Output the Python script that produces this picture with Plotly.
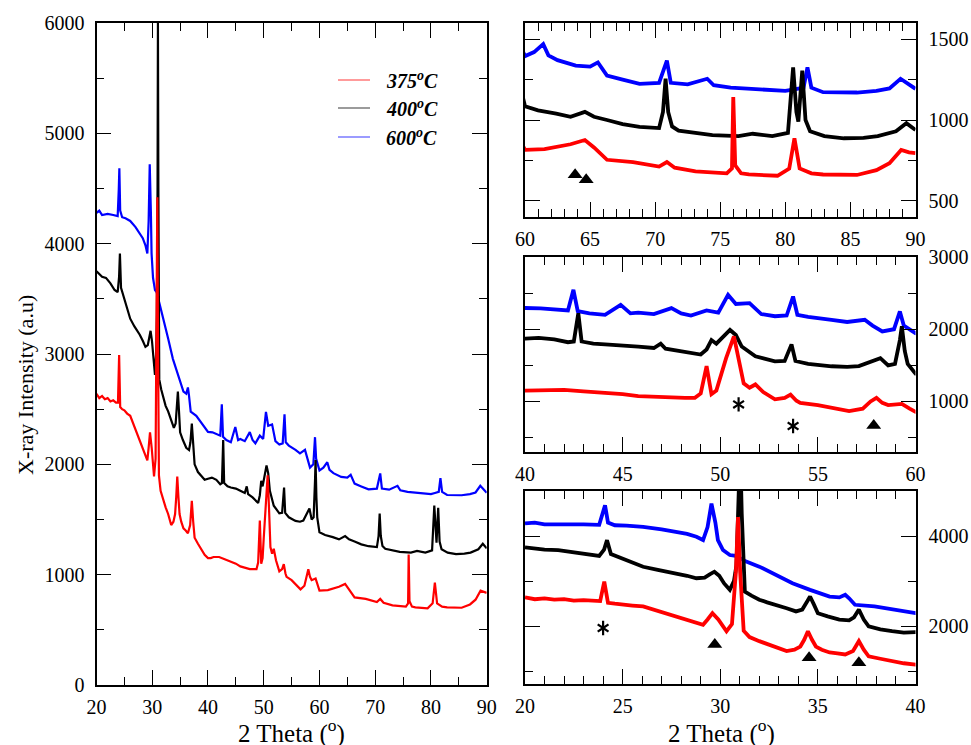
import plotly.graph_objects as go

# ---------------- data ----------------
labels = ["375", "400", "600"]
colors = ["#ff0000", "#000000", "#0000ff"]

red_x = [20.0, 20.5, 21.0, 21.5, 22.0, 22.5, 23.0, 23.5, 23.85, 24.06, 24.25, 24.6, 25.0, 25.5, 26.05, 26.5,
         27.0, 27.76, 28.3, 28.8, 29.12, 29.35, 29.6, 29.9, 30.32, 30.6, 30.8, 30.91, 31.02, 31.2, 31.5, 32.0,
         32.4, 32.85, 33.4, 33.8, 34.1, 34.3, 34.49, 34.7, 34.9, 35.2, 35.6, 36.0, 36.4, 36.8, 37.1, 37.35,
         37.6, 38.2, 38.85, 39.4, 40.0, 40.5, 41.0, 42.0, 43.0, 44.1, 45.0, 45.8, 46.7, 47.5, 48.2, 48.7,
         49.0, 49.3, 49.55, 49.8, 50.0, 50.3, 50.7, 50.95, 51.2, 51.5, 51.8, 52.2, 52.8, 53.3, 53.6, 53.9,
         54.1, 55.0, 55.7, 56.6, 57.3, 57.7, 58.0, 58.3, 58.6, 59.3, 59.7, 60.0, 61.5, 63.5, 64.6, 65.3,
         66.3, 68.3, 70.3, 70.9, 71.5, 73.1, 75.5, 75.9, 76.0, 76.15, 76.6, 77.2, 79.4, 80.3, 80.7, 81.1,
         82.0, 82.9, 85.5, 87.0, 88.0, 88.9, 89.5, 90.0]
red_y = [2640, 2600, 2620, 2590, 2600, 2570, 2580, 2560, 2560, 2990, 2520, 2500, 2490, 2460, 2440, 2380,
         2330, 2220, 2150, 2080, 2035, 2150, 2290, 2150, 1890, 2050, 3200, 4420, 3200, 1900, 1760, 1670,
         1610, 1550, 1450, 1480, 1550, 1700, 1890, 1700, 1550, 1480, 1420, 1400, 1375, 1450, 1670, 1480,
         1335, 1280, 1225, 1180, 1150, 1150, 1160, 1160, 1140, 1120, 1100, 1075, 1065, 1050, 1050, 1050,
         1110, 1490, 1100, 1150, 1330, 1600, 1900, 1600, 1250, 1190, 1235, 1130, 1030, 1050, 1095, 1010,
         980, 950, 915, 867, 900, 1000, 1050, 980, 950, 965, 900, 855, 860, 890, 916, 870,
         794, 780, 752, 780, 745, 722, 710, 740, 1182, 760, 710, 703, 695, 740, 927, 740,
         710, 703, 700, 730, 773, 855, 840, 835]

black_x = [20.0, 20.5, 21.0, 21.7, 22.5, 23.24, 23.8, 24.05, 24.2, 24.4, 24.8, 25.4, 26.05, 26.8, 27.76, 28.3,
           28.78, 29.2, 29.46, 29.7, 29.95, 30.2, 30.49, 30.7, 30.83, 30.95, 31.02, 31.1, 31.26, 31.6, 32.0,
           32.4, 32.85, 33.4, 33.88, 34.2, 34.45, 34.6, 34.8, 35.0, 35.5, 36.1, 36.6, 36.85, 37.1, 37.35,
           37.6, 38.2, 38.8, 39.4, 40.0, 40.7, 41.5, 42.2, 42.5, 42.73, 42.9, 43.5, 44.1, 45.0, 45.8, 46.6,
           46.95, 47.2, 48.0, 49.0, 49.3, 49.55, 49.8, 50.2, 50.5, 50.8, 51.1, 51.8, 52.3, 52.8, 53.3, 53.65,
           53.85, 54.5, 55.7, 56.5, 57.1, 57.6, 58.2, 58.6, 58.95, 59.2, 59.3, 59.45, 59.6, 60.0, 61.0, 62.4,
           63.5, 64.6, 65.3, 66.3, 67.5, 68.8, 70.3, 70.6, 70.8, 71.0, 71.3, 71.8, 73.0, 74.4, 76.4, 77.5,
           79.0, 80.2, 80.6, 80.85, 81.0, 81.3, 81.55, 81.9, 83.0, 84.5, 86.0, 87.1, 88.5, 89.3, 90.0]
black_y = [3750, 3720, 3700, 3690, 3640, 3580, 3560, 3700, 3910, 3600, 3530, 3430, 3320, 3250, 3175, 3120,
           3065, 3080, 3150, 3210, 3120, 2950, 2810, 3000, 3350, 4500, 6000, 4500, 2770, 2680, 2590,
           2530, 2480, 2400, 2330, 2370, 2550, 2660, 2480, 2290, 2220, 2150, 2130, 2200, 2370, 2150,
           2000, 1930, 1890, 1860, 1870, 1880, 1860, 1820, 1830, 2220, 1830, 1800, 1790, 1780, 1760, 1740,
           1800, 1730, 1700, 1650, 1720, 1850, 1800, 1900, 1990, 1920, 1760, 1625, 1590, 1556, 1560, 1790,
           1560, 1520, 1487, 1480, 1490, 1540, 1600, 1500, 1520, 1850, 2040, 1700, 1520, 1385, 1360, 1340,
           1320, 1350, 1320, 1300, 1275, 1258, 1250, 1350, 1555, 1350, 1260, 1234, 1220, 1207, 1200, 1215,
           1200, 1220, 1626, 1350, 1290, 1606, 1300, 1230, 1200, 1187, 1190, 1200, 1230, 1280, 1238]

blue_x = [20.0, 20.5, 21.0, 22.0, 23.0, 23.8, 24.0, 24.1, 24.25, 24.6, 25.2, 26.05, 27.0, 27.76, 28.3, 28.78,
          29.12, 29.35, 29.55, 29.75, 29.88, 30.14, 30.49, 30.8, 31.0, 31.3, 32.0, 32.85, 33.7, 34.6, 35.6,
          36.1, 36.4, 36.6, 36.9, 37.9, 38.8, 40.0, 40.8, 41.6, 42.2, 42.48, 42.7, 43.3, 44.1, 44.9, 45.4,
          45.8, 46.6, 47.5, 48.0, 48.5, 49.3, 49.9, 50.4, 50.8, 51.5, 52.1, 52.8, 53.4, 53.73, 53.95, 54.5,
          55.7, 56.5, 57.4, 57.8, 58.3, 58.9, 59.2, 59.4, 60.0, 60.7, 61.4, 61.8, 62.5, 63.9, 65.0, 65.6,
          66.3, 67.5, 68.8, 70.3, 70.9, 71.2, 72.5, 74.0, 74.5, 75.8, 77.5, 79.0, 80.0, 80.7, 81.4, 81.7,
          82.0, 82.9, 84.0, 85.5, 87.0, 88.0, 88.85, 89.5, 90.0]
blue_y = [4280, 4300, 4260, 4270, 4260, 4250, 4500, 4684, 4300, 4240, 4230, 4206, 4150, 4095, 4050, 3985,
          3912, 4200, 4720, 4300, 3912, 3691, 3580, 3560, 3520, 3440, 3323, 3140, 2956, 2808, 2660,
          2640, 2697, 2620, 2477, 2440, 2380, 2294, 2290, 2270, 2260, 2545, 2250, 2220, 2200, 2338, 2220,
          2230, 2210, 2292, 2220, 2190, 2260, 2230, 2476, 2350, 2362, 2210, 2180, 2190, 2453, 2200, 2170,
          2131, 2100, 2131, 2050, 1970, 2000, 2246, 2050, 1945, 1970, 2019, 1950, 1920, 1886, 1880, 1906,
          1825, 1800, 1774, 1780, 1917, 1780, 1770, 1805, 1765, 1750, 1743, 1735, 1730, 1740, 1750, 1876,
          1750, 1722, 1720, 1720, 1730, 1745, 1805, 1770, 1743]

# vertical offsets used in the 60-90 inset (375, 400, 600)
inset_top_shift = [40, 300, 550]

# peak markers drawn in the insets (x, intensity)
tri_top_x, tri_top_y = [63.85, 64.7], [661, 631]
tri_mid_x, tri_mid_y = [57.86], [666]
ast_mid_x, ast_mid_y = [50.94, 53.73], [959, 660]
tri_bot_x, tri_bot_y = [29.72, 34.55, 37.1], [1594, 1300, 1190]
ast_bot_x, ast_bot_y = [24.0], [1962]

main_xticks = [20, 30, 40, 50, 60, 70, 80, 90]
main_yticks = [0, 1000, 2000, 3000, 4000, 5000, 6000]

# ---------------- figure ----------------
W, H = 971, 745
FONT = "Liberation Serif, Times New Roman, serif"


def fx(p):
    return p / W


def fy(p):
    return 1 - p / H


series = [(red_x, red_y), (black_x, black_y), (blue_x, blue_y)]
order = [2, 1, 0]  # blue, black, red (red on top)

fig = go.Figure()

axes = [("x", "y", 2.2, 0), ("x2", "y2", 3.8, 1), ("x3", "y3", 3.8, 0), ("x4", "y4", 3.8, 0)]
for xa, ya, lw, use_shift in axes:
    for i in order:
        xs, ys = series[i]
        if use_shift:
            ys = [v - inset_top_shift[i] for v in ys]
        fig.add_trace(go.Scatter(x=xs, y=ys, mode="lines", xaxis=xa, yaxis=ya,
                                 line=dict(color=colors[i], width=lw), showlegend=False,
                                 hoverinfo="skip"))

tri = dict(symbol="triangle-up", size=13, color="black")
for xs, ys, xa, ya in [(tri_top_x, tri_top_y, "x2", "y2"), (tri_mid_x, tri_mid_y, "x3", "y3"),
                       (tri_bot_x, tri_bot_y, "x4", "y4")]:
    fig.add_trace(go.Scatter(x=xs, y=ys, mode="markers", marker=tri, xaxis=xa, yaxis=ya,
                             showlegend=False, hoverinfo="skip"))
for xs, ys, xa, ya in [(ast_mid_x, ast_mid_y, "x3", "y3"), (ast_bot_x, ast_bot_y, "x4", "y4")]:
    for sym in ["y-up-open", "y-down-open"]:
        fig.add_trace(go.Scatter(x=xs, y=ys, mode="markers", xaxis=xa, yaxis=ya,
                                 marker=dict(symbol=sym, size=9, color="black",
                                             line=dict(color="black", width=2.2)),
                                 showlegend=False, hoverinfo="skip"))

common = dict(showline=True, linecolor="black", linewidth=1.8, mirror="allticks",
              ticks="inside", ticklen=15, tickwidth=1.4, tickcolor="black",
              showgrid=False, zeroline=False, automargin=False,
              tickfont=dict(family=FONT, size=20, color="black"))
minor_style = dict(ticklen=8, tickwidth=1.4, tickcolor="black", ticks="inside")

fig.update_layout(
    width=W, height=H, margin=dict(l=0, r=0, t=0, b=0, autoexpand=False),
    plot_bgcolor="white", paper_bgcolor="white",
    font=dict(family=FONT, color="black"),
    xaxis=dict(domain=[fx(96.5), fx(486.7)], range=[20, 90], tickvals=main_xticks,
               minor=dict(dtick=5, **minor_style),
               anchor="y", ticklabelstandoff=3, **common),
    yaxis=dict(domain=[fy(685), fy(23)], range=[0, 6000], tickvals=main_yticks,
               minor=dict(dtick=500, **minor_style),
               anchor="x", ticklabelstandoff=6, **common),
    xaxis2=dict(domain=[fx(525), fx(915.5)], range=[60, 90], dtick=5, anchor="y2",
                minor=dict(dtick=1, **minor_style),
                ticklabelstandoff=3, **common),
    yaxis2=dict(domain=[fy(217), fy(23)], range=[400, 1600], dtick=500, tick0=0, side="right",
                anchor="x2", minor=dict(dtick=250, **minor_style),
                ticklabelstandoff=7, **common),
    xaxis3=dict(domain=[fx(525), fx(915.5)], range=[40, 60], dtick=5, anchor="y3",
                minor=dict(dtick=1, **minor_style),
                ticklabelstandoff=3, **common),
    yaxis3=dict(domain=[fy(452), fy(257)], range=[300, 3000], dtick=1000, tick0=0, side="right",
                anchor="x3", minor=dict(dtick=500, **minor_style),
                ticklabelstandoff=7, **common),
    xaxis4=dict(domain=[fx(525), fx(915.5)], range=[20, 40], dtick=5, anchor="y4",
                minor=dict(dtick=1, **minor_style),
                ticklabelstandoff=3, **common),
    yaxis4=dict(domain=[fy(684), fy(491)], range=[720, 5000], dtick=2000, tick0=0, side="right",
                anchor="x4", minor=dict(dtick=1000, **minor_style),
                ticklabelstandoff=7, **common),
)

ann = [
    dict(text="X-ray Intensity (a.u)", x=fx(25), y=fy(385), textangle=-90,
         font=dict(size=22)),
    dict(text="2 Theta (<sup>o</sup>)", x=fx(291), y=fy(731), font=dict(size=25)),
    dict(text="2 Theta (<sup>o</sup>)", x=fx(721), y=fy(731), font=dict(size=25)),
]
for a in ann:
    a.update(xref="paper", yref="paper", showarrow=False, xanchor="center", yanchor="middle")
    a["font"].update(family=FONT, color="black")
    fig.add_annotation(**a)

legend_y = [80, 108, 137]
for i, lab in enumerate(labels):
    fig.add_shape(type="line", xref="paper", yref="paper", x0=fx(338), x1=fx(370),
                  y0=fy(legend_y[i]), y1=fy(legend_y[i]),
                  line=dict(color=colors[i], width=1.3), opacity=0.6)
    fig.add_annotation(text="<b><i>" + lab + "<sup>o</sup>C</i></b>", xref="paper", yref="paper",
                       x=fx(384), y=fy(legend_y[i]), xanchor="left", yanchor="middle",
                       showarrow=False, font=dict(family=FONT, size=20, color="black"))

fig.write_html("out.html")
